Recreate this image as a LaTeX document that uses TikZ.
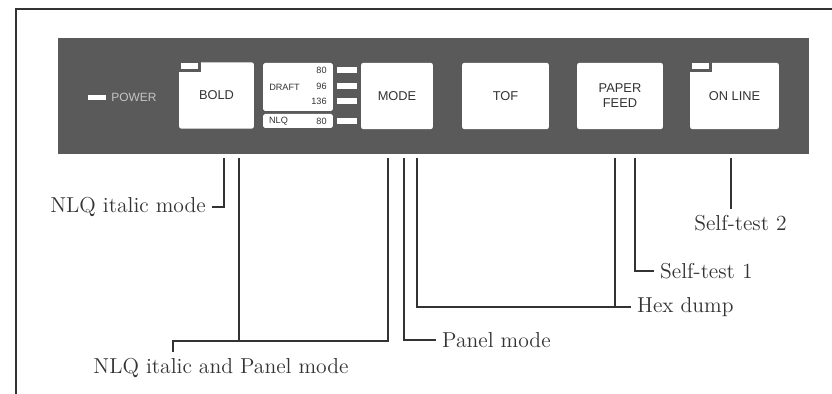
\documentclass[tikz,border=0pt]{standalone}
\usepackage{fontspec}
\newfontfamily\panelfont{Liberation Sans}
\usepackage{tikz}
\usetikzlibrary{calc}
\usepackage{xcolor}
\definecolor{colpanel}{HTML}{5A5A5A}
\definecolor{colink}{HTML}{333333}
\definecolor{colpower}{HTML}{C4C4C4}
\newcommand{\ledesquina}[2]{%
  \fill[colpanel] (#1,#2) rectangle ({#1+22},{#2+10});
  \fill[white] ({#1+2},{#2+1}) rectangle ({#1+19},{#2+7.5});}

\begin{document}
\begin{tikzpicture}[
  x=0.02cm, y=-0.02cm,
  panel/.style={fill=colpanel,inner sep=0pt,minimum width=15.02cm,minimum height=2.32cm},
  key/.style={fill=white,rounded corners=1.5pt,inner sep=0pt,minimum height=1.33cm,
              text=colink,font=\panelfont\fontsize{7.3}{8.5}\selectfont,align=center},
  tag/.style={fill=white,rounded corners=1pt,inner sep=0pt,minimum width=1.4cm},
  tiny/.style={inner sep=0pt,text=colink,font=\panelfont\fontsize{5.2}{6}\selectfont},
  led/.style={fill=white,inner sep=0pt,minimum width=0.4cm,minimum height=0.12cm},
  lbl/.style={text=colink,font=\fontsize{12.3}{14}\selectfont},
  leader/.style={colink,line width=0.6pt},
]
  \useasboundingbox (0,0) rectangle (832,394);
  \draw[colink,line width=0.6pt] (16,394) -- (16,9) -- (832,9);

  % ---- panel de mandos ----
  \node[panel] (panel) at (433.5,96) {};
  \node[fill=white,inner sep=0pt,minimum width=0.36cm,minimum height=0.1cm] (ledpower) at (97,97.5) {};
  \node[text=colpower,inner sep=0pt,font=\panelfont\fontsize{6.8}{8}\selectfont] (power) at (134,97.5) {POWER};

  \node[key,minimum width=1.5cm]  (bold)   at (216.5,95.5) {BOLD};
  \ledesquina{179}{62}
  \node[tag,minimum height=0.96cm] (draft) at (298,87)  {};
  \node[tag,minimum height=0.28cm] (nlq)   at (298,121) {};
  \node[tiny] (txtdraft) at (284.5,87) {DRAFT};
  \node[tiny,anchor=east] (t80)  at (327,70)  {80};
  \node[tiny,anchor=east] (t96)  at (327,86)  {96};
  \node[tiny,anchor=east] (t136) at (327,101) {136};
  \node[tiny] (txtnlq) at (278.5,121) {NLQ};
  \node[tiny,anchor=east] (tnlq) at (327,121) {80};
  \foreach \y/\n in {70/l80,86/l96,101/l136,121/lnlq}
    \node[led] (\n) at (347,\y) {};

  \node[key,minimum width=1.44cm] (mode)   at (397,96)   {MODE};
  \node[key,minimum width=1.74cm] (tof)    at (505.5,96) {TOF};
  \node[key,minimum width=1.72cm] (feed)   at (620,96)   {PAPER\\FEED};
  \node[key,minimum width=1.78cm] (online) at (734.5,96) {ON LINE};
  \ledesquina{690}{62}

  % ---- llamadas ----
  \coordinate (p1)  at (224,158);
  \coordinate (p2a) at (239,158);
  \coordinate (p2b) at (388,158);
  \coordinate (q2)  at (173,341);
  \coordinate (p3)  at (404,158);
  \coordinate (p4a) at (417,158);
  \coordinate (p4b) at (615,158);
  \coordinate (p5)  at (635,158);
  \coordinate (p6)  at (731,158);

  \node[lbl,anchor=east] (lblital)  at (212,207)   {NLQ italic mode};
  \node[lbl]             (lblboth)  at (221,368)   {NLQ italic and Panel mode};
  \node[lbl,anchor=west] (lblpanel) at (436,340)   {Panel mode};
  \node[lbl,anchor=west] (lblhex)   at (631,307)   {Hex dump};
  \node[lbl,anchor=west] (lblst1)   at (654,271)   {Self-test 1};
  \node[lbl]             (lblst2)   at (740.5,223) {Self-test 2};

  \draw[leader] (p1) |- (lblital.east);
  \draw[leader] (p2a) -- (p2a |- q2);
  \draw[leader] (p2b) |- (q2) -- (q2 |- lblboth.north);
  \draw[leader] (p3) |- (lblpanel.west);
  \draw[leader] (p4a) |- (lblhex.west);
  \draw[leader] (p4b) -- (p4b |- lblhex.west);
  \draw[leader] (p5) |- (lblst1.west);
  \draw[leader] (p6) -- (p6 |- lblst2.north);
\end{tikzpicture}
\end{document}
